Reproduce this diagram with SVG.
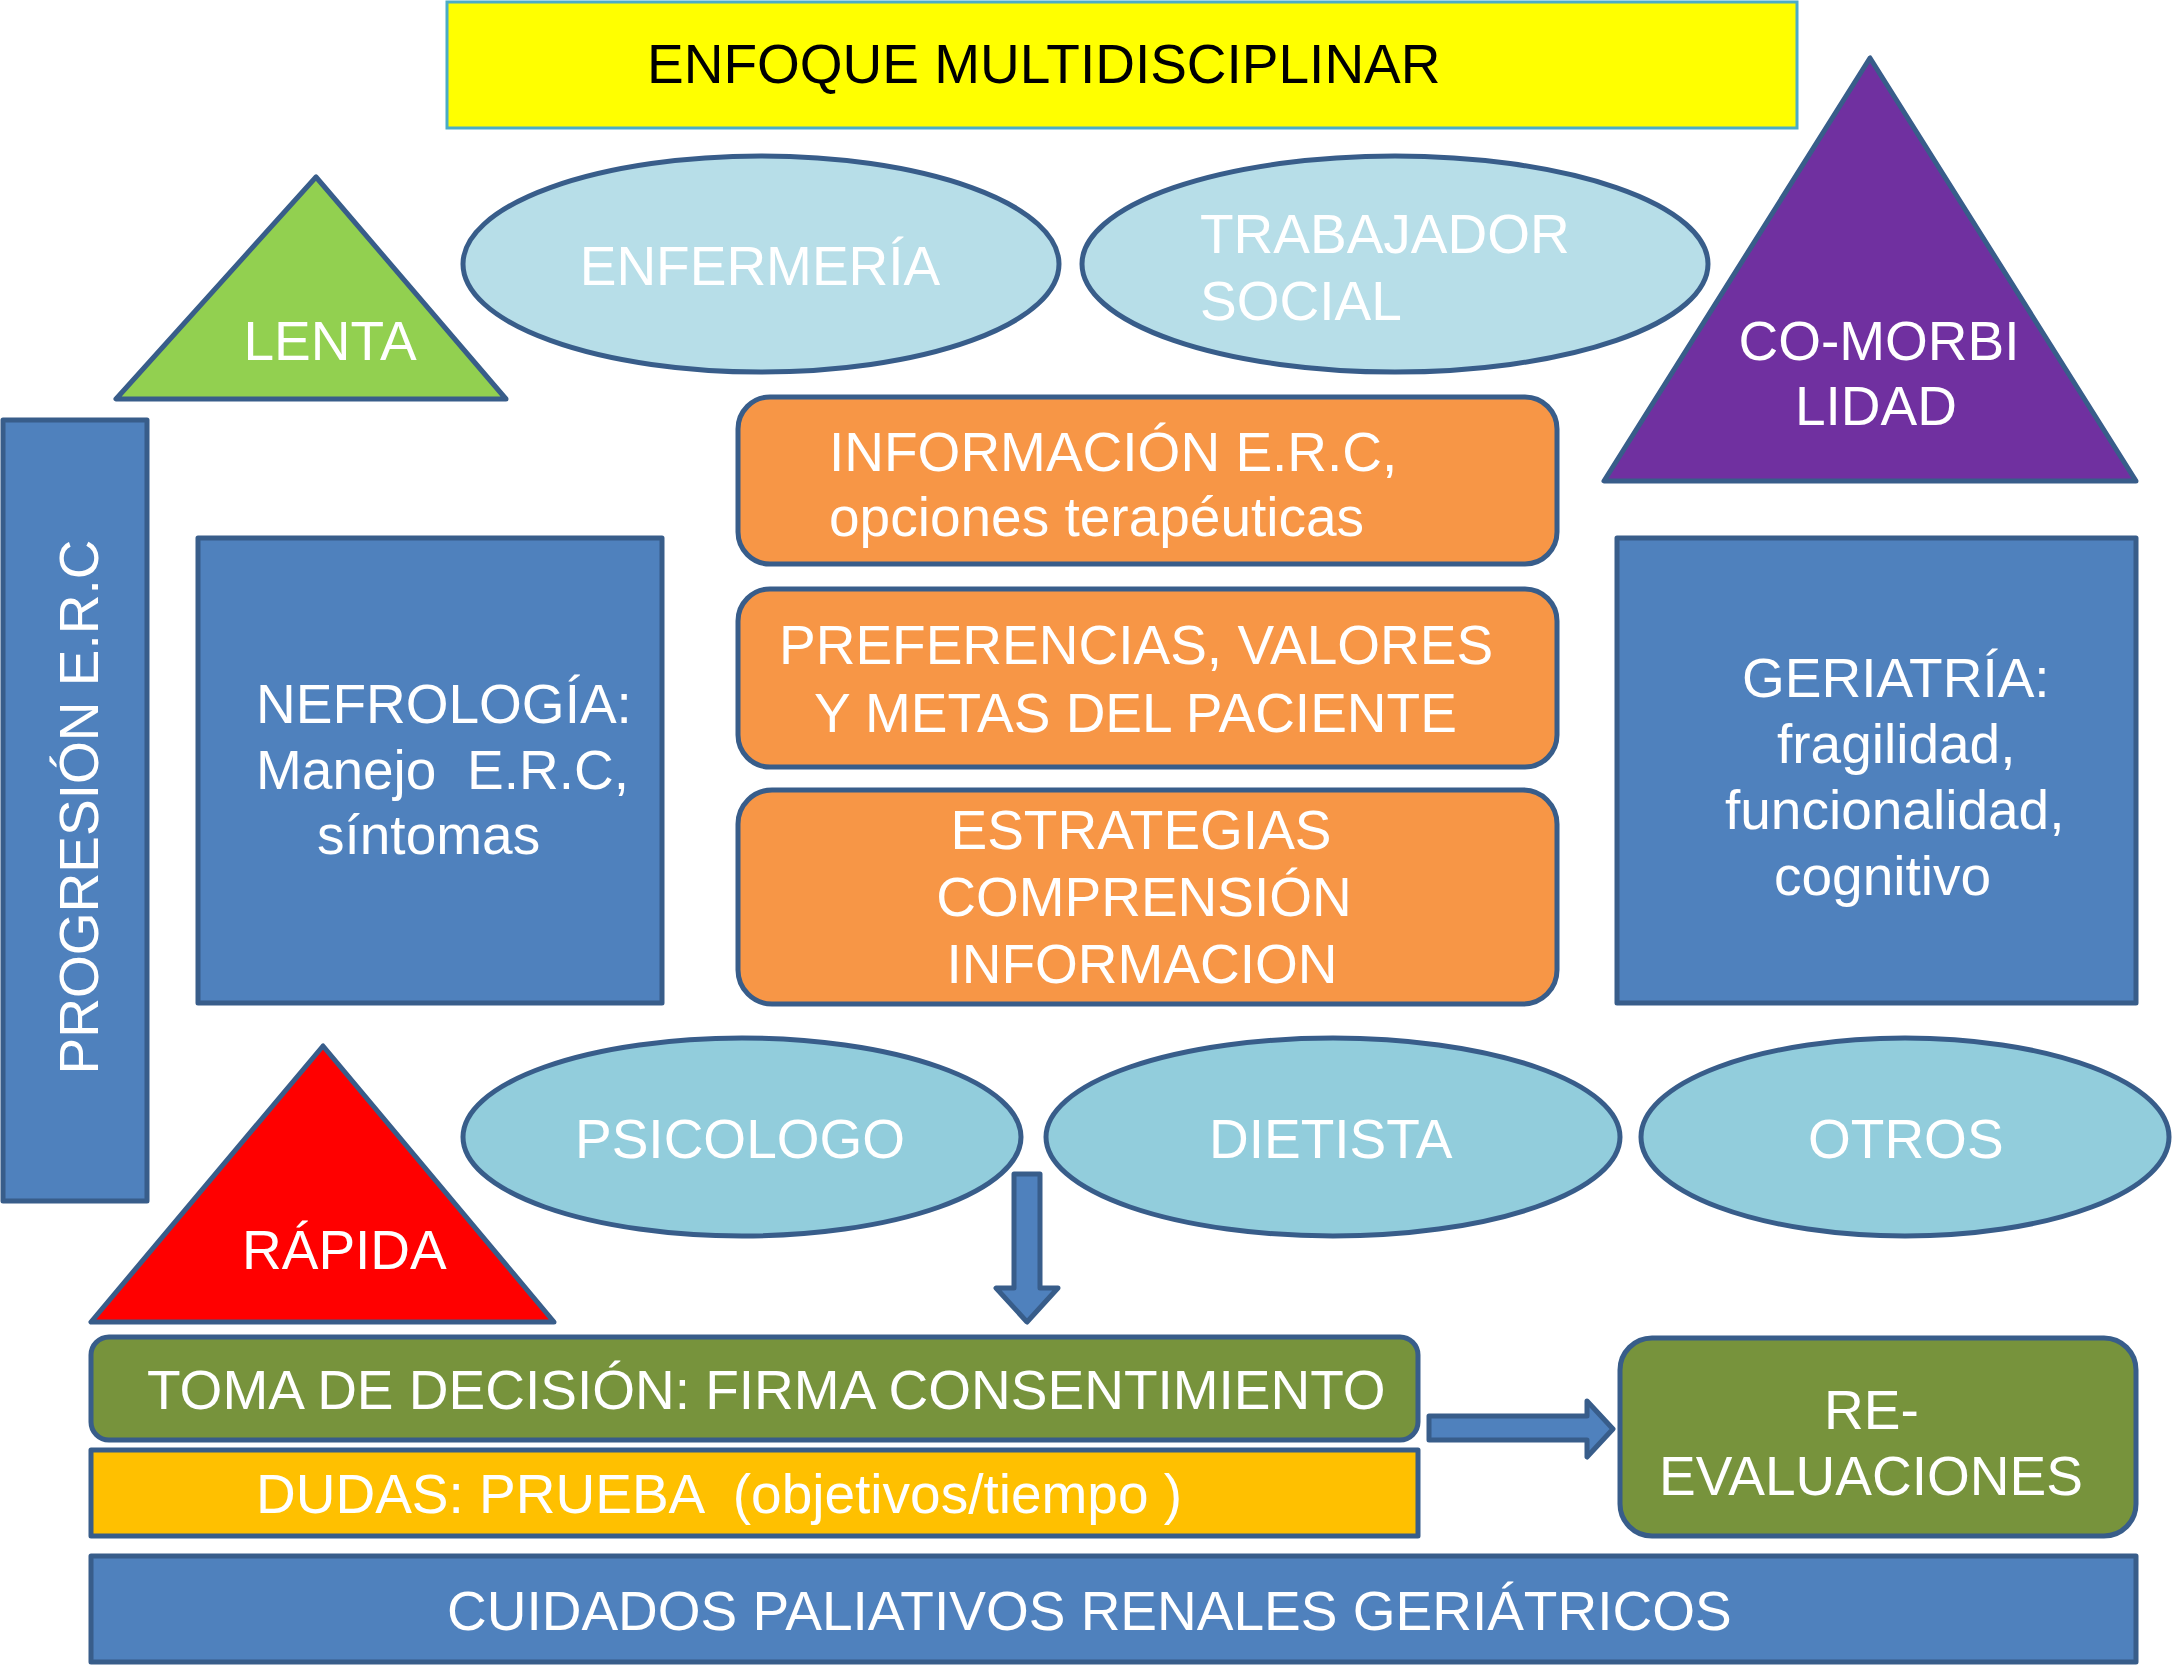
<svg xmlns="http://www.w3.org/2000/svg" width="2173" height="1667" viewBox="0 0 2173 1667">
<style>
text{font-family:"Liberation Sans",Arial,sans-serif;font-size:55px;fill:#FFFFFF}
.s{stroke:#385D8A;stroke-width:5;stroke-linejoin:round}
.blue{fill:#4F81BD}
.orange{fill:#F79646}
.ell1{fill:#B7DEE8}
.ell2{fill:#92CDDC}
.olive{fill:#77933C}
.m{text-anchor:middle}
</style>
<rect width="2173" height="1667" fill="#FFFFFF"/>
<g id="title">
<rect x="447" y="2" width="1350" height="126" fill="#FFFF00" stroke="#4BACC6" stroke-width="3"/>
<text x="647" y="83" style="fill:#000000">ENFOQUE MULTIDISCIPLINAR</text>
</g>
<g id="lenta">
<polygon class="s" points="316,177 116,399 506,399" fill="#92D050"/>
<text x="330" y="360" class="m">LENTA</text>
</g>
<g id="enfermeria">
<ellipse class="s ell1" cx="761" cy="264" rx="298" ry="108"/>
<text x="760" y="285" class="m">ENFERMERÍA</text>
</g>
<g id="trabajador-social">
<ellipse class="s ell1" cx="1395" cy="264" rx="313" ry="108"/>
<text x="1200" y="253">TRABAJADOR</text>
<text x="1200" y="320">SOCIAL</text>
</g>
<g id="comorbilidad">
<polygon class="s" points="1870,58 1604,481 2136,481" fill="#7030A0"/>
<text x="1879" y="360" class="m">CO-MORBI</text>
<text x="1876" y="425" class="m">LIDAD</text>
</g>
<g id="progresion">
<rect class="s blue" x="3" y="420" width="144" height="781"/>
<text transform="translate(98,807) rotate(-90)" class="m">PROGRESIÓN E.R.C</text>
</g>
<g id="nefrologia">
<rect class="s blue" x="198" y="538" width="464" height="465"/>
<text x="256" y="723">NEFROLOGÍA:</text>
<text x="256" y="789" xml:space="preserve">Manejo  E.R.C,</text>
<text x="317" y="854">síntomas</text>
</g>
<g id="informacion">
<rect class="s orange" x="738" y="397" width="819" height="167" rx="32"/>
<text x="829" y="471">INFORMACIÓN E.R.C,</text>
<text x="829" y="536">opciones terapéuticas</text>
</g>
<g id="preferencias">
<rect class="s orange" x="738" y="589" width="819" height="178" rx="32"/>
<text x="779" y="664">PREFERENCIAS, VALORES</text>
<text x="814" y="732">Y METAS DEL PACIENTE</text>
</g>
<g id="estrategias">
<rect class="s orange" x="738" y="790" width="819" height="214" rx="34"/>
<text x="1141" y="849" class="m">ESTRATEGIAS</text>
<text x="1144" y="916" class="m">COMPRENSIÓN</text>
<text x="1142" y="983" class="m">INFORMACION</text>
</g>
<g id="geriatria">
<rect class="s blue" x="1617" y="538" width="519" height="465"/>
<text x="1742" y="697">GERIATRÍA:</text>
<text x="1777" y="763">fragilidad,</text>
<text x="1725" y="829">funcionalidad,</text>
<text x="1774" y="895">cognitivo</text>
</g>
<g id="psicologo">
<ellipse class="s ell2" cx="742" cy="1137" rx="279" ry="99"/>
<text x="575" y="1158">PSICOLOGO</text>
</g>
<g id="dietista">
<ellipse class="s ell2" cx="1333" cy="1137" rx="287" ry="99"/>
<text x="1209" y="1158">DIETISTA</text>
</g>
<g id="otros">
<ellipse class="s ell2" cx="1905" cy="1137" rx="264" ry="99"/>
<text x="1808" y="1158">OTROS</text>
</g>
<g id="rapida">
<polygon class="s" points="323,1046 91,1322 554,1322" fill="#FF0000"/>
<text x="242" y="1269">RÁPIDA</text>
</g>
<g id="toma-decision">
<rect class="s olive" x="91" y="1337" width="1327" height="103" rx="18"/>
<text x="147" y="1409">TOMA DE DECISIÓN: FIRMA CONSENTIMIENTO</text>
</g>
<g id="dudas">
<rect class="s" x="91" y="1450" width="1327" height="86" fill="#FFC000"/>
<text x="256" y="1513" xml:space="preserve">DUDAS: PRUEBA  (objetivos/tiempo )</text>
</g>
<g id="reevaluaciones">
<rect class="s olive" x="1620" y="1338" width="516" height="198" rx="32"/>
<text x="1824" y="1429">RE-</text>
<text x="1659" y="1495">EVALUACIONES</text>
</g>
<g id="cuidados-paliativos">
<rect class="s blue" x="91" y="1556" width="2045" height="106"/>
<text x="447" y="1630">CUIDADOS PALIATIVOS RENALES GERIÁTRICOS</text>
</g>
<g id="connectors">
<polygon class="s blue" stroke-width="4" points="1014,1174 1040,1174 1040,1288 1058,1288 1027,1322 996,1288 1014,1288"/>
<polygon class="s blue" stroke-width="4" points="1429,1416 1587,1416 1587,1401 1613,1429 1587,1457 1587,1440 1429,1440"/>
</g>
</svg>
